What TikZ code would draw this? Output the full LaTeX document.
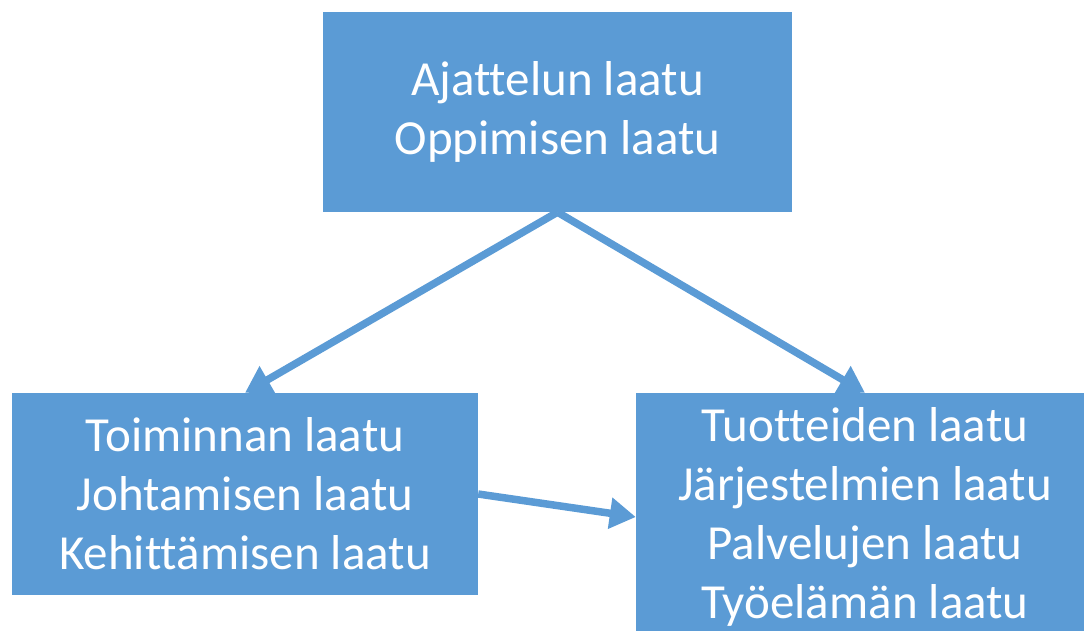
\documentclass[tikz,border=0pt]{standalone}
\usepackage{fontspec}
\setmainfont[Ligatures=NoCommon]{Carlito}
\usetikzlibrary{arrows.meta}
\definecolor{boxblue}{HTML}{5B9BD5}
\tikzset{
  qbox/.style={fill=boxblue, draw=none, text=white, align=center, inner sep=0pt,
    font=\fontsize{49}{59}\selectfont},
  qarrow/.style={draw=boxblue, line width=7.5pt, -{Triangle[length=26pt,width=30pt]}}
}
\begin{document}
\begin{tikzpicture}[x=1pt,y=-1pt]
\useasboundingbox (0,0) rectangle (1084,630);
\begin{scope}
\clip (0,0) rectangle (1084,630);
\node[qbox, minimum width=469pt, minimum height=200pt] (top) at (557.5,112) {Ajattelun laatu\\Oppimisen laatu};
\node[qbox, minimum width=466pt, minimum height=202pt] (left) at (245,494) {Toiminnan laatu\\Johtamisen laatu\\Kehittämisen laatu};
\node[qbox, minimum width=458pt, minimum height=248pt] (right) at (865,517) {Tuotteiden laatu\\Järjestelmien laatu\\Palvelujen laatu\\Työelämän laatu};
\draw[qarrow] (top.south) -- (left.north);
\draw[qarrow] (top.south) -- (right.north);
\draw[qarrow] (left.east) -- (right.west);
\end{scope}
\end{tikzpicture}
\end{document}
